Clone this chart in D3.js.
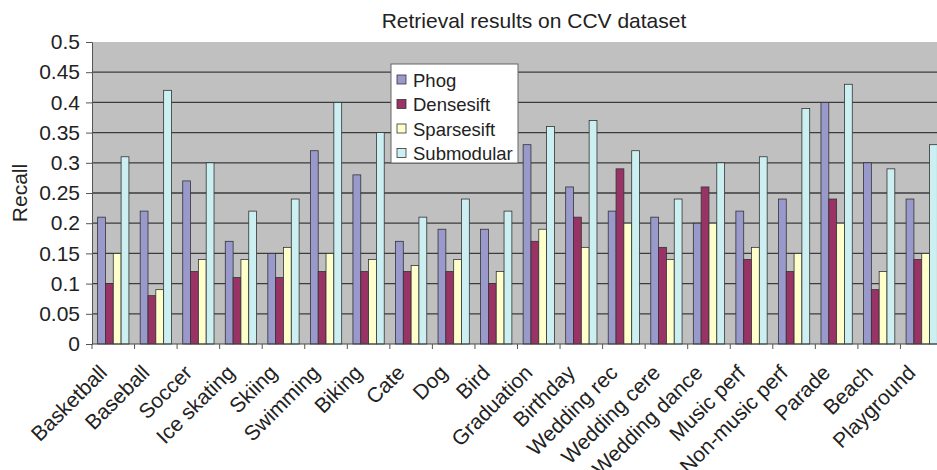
<!DOCTYPE html>
<html>
<head>
<meta charset="utf-8">
<script src="https://cdn.jsdelivr.net/npm/d3@7"></script>
<style>
  body { margin: 0; background: #fff; }
  text { font-family: "Liberation Sans", Arial, sans-serif; fill: #222; }
</style>
</head>
<body>
<svg></svg>
<script>
const categories = ["Basketball", "Baseball", "Soccer", "Ice skating", "Skiing", "Swimming", "Biking", "Cate", "Dog", "Bird",
  "Graduation", "Birthday", "Wedding rec", "Wedding cere", "Wedding dance", "Music perf", "Non-music perf", "Parade", "Beach", "Playground"];
const seriesNames = ["Phog", "Densesift", "Sparsesift", "Submodular"];
const phog       = [0.21, 0.22, 0.27, 0.17, 0.15, 0.32, 0.28, 0.17, 0.19, 0.19, 0.33, 0.26, 0.22, 0.21, 0.20, 0.22, 0.24, 0.40, 0.30, 0.24];
const densesift  = [0.10, 0.08, 0.12, 0.11, 0.11, 0.12, 0.12, 0.12, 0.12, 0.10, 0.17, 0.21, 0.29, 0.16, 0.26, 0.14, 0.12, 0.24, 0.09, 0.14];
const sparsesift = [0.15, 0.09, 0.14, 0.14, 0.16, 0.15, 0.14, 0.13, 0.14, 0.12, 0.19, 0.16, 0.20, 0.14, 0.20, 0.16, 0.15, 0.20, 0.12, 0.15];
const submodular = [0.31, 0.42, 0.30, 0.22, 0.24, 0.40, 0.35, 0.21, 0.24, 0.22, 0.36, 0.37, 0.32, 0.24, 0.30, 0.31, 0.39, 0.43, 0.29, 0.33];
const yTicks = [0, 0.05, 0.1, 0.15, 0.2, 0.25, 0.3, 0.35, 0.4, 0.45, 0.5];

const values = [phog, densesift, sparsesift, submodular];
const colors = ["#9999cc", "#993366", "#ffffcc", "#ccf0f2"];

const svgWidth = 937, svgHeight = 470;
const margin = { top: 42, left: 92 };
const width = 851, height = 302;

const svg = d3.select("svg")
    .attr("width", svgWidth)
    .attr("height", svgHeight);

const g = svg.append("g")
    .attr("transform", "translate(" + margin.left + "," + margin.top + ")");

const x0 = d3.scaleBand().domain(categories).range([0, width]);
const x1 = d3.scaleBand().domain(seriesNames).range([0, x0.bandwidth()]).paddingOuter(0.72);
const y = d3.scaleLinear().domain([0, 0.5]).range([height, 0]);

// plot area
g.append("rect")
    .attr("width", width)
    .attr("height", height)
    .attr("fill", "#c0c0c0");

// gridlines
g.selectAll(".grid")
    .data(yTicks.filter(function(d) { return d > 0 && d < 0.5; }))
    .enter()
    .append("line")
    .attr("x1", 0)
    .attr("x2", width)
    .attr("y1", function(d) { return y(d); })
    .attr("y2", function(d) { return y(d); })
    .attr("stroke", "#3c3c3c")
    .attr("stroke-width", 1.3);

// bars
const groups = g.selectAll(".cat")
    .data(categories)
    .enter()
    .append("g")
    .attr("transform", function(d) { return "translate(" + x0(d) + ",0)"; });

groups.selectAll("rect")
    .data(function(d, i) { return seriesNames.map(function(s, j) { return { s: s, v: values[j][i], c: colors[j] }; }); })
    .enter()
    .append("rect")
    .attr("x", function(d) { return x1(d.s); })
    .attr("y", function(d) { return y(d.v); })
    .attr("width", x1.bandwidth())
    .attr("height", function(d) { return height - y(d.v); })
    .attr("fill", function(d) { return d.c; })
    .attr("stroke", "#333")
    .attr("stroke-width", 0.8);

// y axis
const yAxis = g.append("g")
    .call(d3.axisLeft(y).tickValues(yTicks).tickSize(6).tickFormat(function(d) { return d; }));
yAxis.select(".domain").attr("stroke", "#555");
yAxis.selectAll(".tick line").attr("stroke", "#555");
yAxis.selectAll("text")
    .attr("x", -12)
    .style("font-size", "21px")
    .style("font-family", "'Liberation Sans', Arial, sans-serif")
    .attr("fill", "#222");

// x axis
const xAxis = g.append("g")
    .attr("transform", "translate(0," + height + ")");
xAxis.append("line")
    .attr("x1", 0).attr("x2", width)
    .attr("stroke", "#444").attr("stroke-width", 1.2);
xAxis.selectAll(".xt")
    .data(categories)
    .enter()
    .append("line")
    .attr("x1", function(d) { return x0(d); })
    .attr("x2", function(d) { return x0(d); })
    .attr("y1", 0).attr("y2", 5)
    .attr("stroke", "#555");
xAxis.selectAll(".xl")
    .data(categories)
    .enter()
    .append("text")
    .attr("transform", function(d) { return "translate(" + (x0(d) + x0.bandwidth() / 2 - 5) + ",30) rotate(-45)"; })
    .attr("text-anchor", "end")
    .style("font-size", "21px")
    .text(function(d) { return d; });

// y label
svg.append("text")
    .attr("transform", "translate(27,193) rotate(-90)")
    .attr("text-anchor", "middle")
    .style("font-size", "21px")
    .text("Recall");

// title
svg.append("text")
    .attr("x", 534)
    .attr("y", 28)
    .attr("text-anchor", "middle")
    .style("font-size", "21px")
    .text("Retrieval results on CCV dataset");

// legend
const legend = svg.append("g").attr("transform", "translate(391,64)");
legend.append("rect")
    .attr("width", 127)
    .attr("height", 99)
    .attr("fill", "#fff")
    .attr("stroke", "#666");
const items = legend.selectAll(".item")
    .data(seriesNames)
    .enter()
    .append("g")
    .attr("transform", function(d, i) { return "translate(6," + (16 + i * 24.5) + ")"; });
items.append("rect")
    .attr("x", 0).attr("y", -5)
    .attr("width", 9).attr("height", 9)
    .attr("fill", function(d, i) { return colors[i]; })
    .attr("stroke", "#333")
    .attr("stroke-width", 0.8);
items.append("text")
    .attr("x", 16)
    .attr("y", 6.5)
    .style("font-size", "18.5px")
    .text(function(d) { return d; });
</script>
</body>
</html>
